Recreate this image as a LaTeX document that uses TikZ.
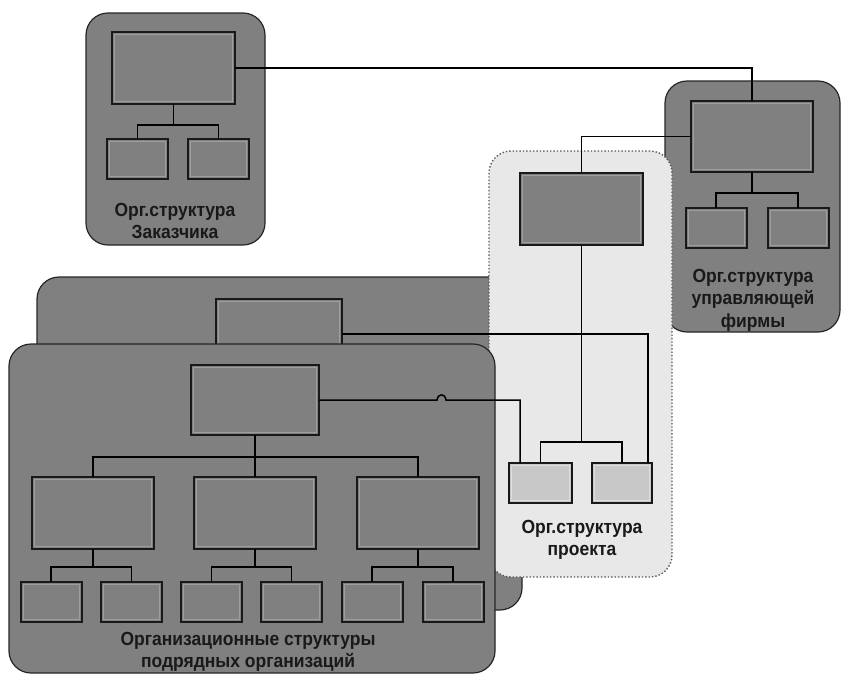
\documentclass[tikz,border=0pt]{standalone}
\usepackage{fontspec}
\newfontfamily\lblfont{Liberation Sans Bold}[FakeStretch=0.92]
\definecolor{panelgray}{RGB}{128,128,128}
\definecolor{rimgray}{RGB}{158,158,158}
\definecolor{projfill}{RGB}{232,232,232}
\definecolor{subfill}{RGB}{200,200,200}
\definecolor{subrim}{RGB}{222,222,222}
\tikzset{
  panel/.style={draw=black!85, line width=1.2pt, fill=panelgray,
    rounded corners=22pt, inner sep=0pt, outer sep=0pt},
  projpanel/.style={draw=black!65, dotted, line width=1.4pt, fill=projfill,
    rounded corners=22pt, inner sep=0pt, outer sep=0pt},
  rim/.style={path picture={
    \draw[#1, line width=1pt]
      ([xshift=2.5pt,yshift=-2.5pt]path picture bounding box.north west)
      rectangle
      ([xshift=-2.5pt,yshift=2.5pt]path picture bounding box.south east);}},
  orgbox/.style={draw=black!90, line width=2pt, fill=panelgray,
    inner sep=0pt, outer sep=0pt, rim=rimgray},
  smallbox/.style={orgbox, minimum width=61pt, minimum height=40pt},
  projbox/.style={orgbox, fill=subfill, rim=subrim, minimum height=40pt},
  conn/.style={draw=black, line width=1.5pt},
  lbl/.style={text=black!90, align=center, inner sep=0pt,
    font=\lblfont\fontsize{19}{22.5}\selectfont}
}
\begin{document}
\begin{tikzpicture}[x=1pt,y=-1pt]
\useasboundingbox (0,0) rectangle (842,675);

% customer
\node[panel, minimum width=179pt, minimum height=232pt] (pZ) at (175.5,129) {};
\node[orgbox, minimum width=123pt, minimum height=72pt] (zTop) at (173.5,68) {};
\node[smallbox] (zL) at (137.5,158.5) {};
\node[smallbox] (zR) at (218.5,158.5) {};
\node[lbl] (zText) at (175,221) {Орг.структура\\Заказчика};
\draw[conn] (zTop.south) -- ++(0,21) coordinate (zJ);
\draw[conn] (zL.north) |- (zJ) -| (zR.north);

% management firm
\node[panel, minimum width=175pt, minimum height=251pt] (pM) at (752.5,206.5) {};
\node[orgbox, minimum width=122pt, minimum height=71pt] (mTop) at (752,136.5) {};
\node[smallbox] (mL) at (716,227.5) {};
\node[smallbox] (mR) at (798,227.5) {};
\node[lbl] (mText) at (753,300) {Орг.структура\\управляющей\\фирмы};
\draw[conn] (mTop.south) -- ++(0,21) coordinate (mJ);
\draw[conn] (mL.north) |- (mJ) -| (mR.north);

% contractors, back sheet
\node[panel, minimum width=485pt, minimum height=333pt] (pB) at (279.5,443.5) {};
\node[orgbox, minimum width=126pt, minimum height=70pt] (bTop) at (279,334) {};

% project
\node[projpanel, minimum width=183pt, minimum height=426pt] (pP) at (580.5,364) {};
\node[orgbox, minimum width=123pt, minimum height=72pt] (pTop) at (581.5,209) {};
\node[projbox, minimum width=63pt] (pL) at (540.5,483) {};
\node[projbox, minimum width=60pt] (pR) at (622,483) {};
\node[lbl] (pText) at (582,540) {Орг.структура\\проекта};
\draw[conn] (pTop.south) -- (pTop.south |- 0,442) coordinate (pJ);
\draw[conn] (pL.north) |- (pJ) -| (pR.north);

% contractors, front sheet
\node[panel, minimum width=486pt, minimum height=329pt] (pF) at (252,508.5) {};
\node[orgbox, minimum width=128pt, minimum height=70pt] (fTop) at (255,400) {};
\node[orgbox, minimum width=122pt, minimum height=72pt] (fA) at (93,513) {};
\node[orgbox, minimum width=122pt, minimum height=72pt] (fB) at (255,513) {};
\node[orgbox, minimum width=122pt, minimum height=72pt] (fC) at (418,513) {};
\node[smallbox] (fA1) at (51,602) {};
\node[smallbox] (fA2) at (131.5,602) {};
\node[smallbox] (fB1) at (211.5,602) {};
\node[smallbox] (fB2) at (291.5,602) {};
\node[smallbox] (fC1) at (372,602) {};
\node[smallbox] (fC2) at (453,602) {};
\node[lbl] (fText) at (248,652) {Организационные структуры\\подрядных организаций};
\draw[conn] (fTop.south) -- (fB.north);
\coordinate (fJ) at (fTop.south |- 0,457);
\draw[conn] (fA.north) |- (fJ) -| (fC.north);
\foreach \g in {A,B,C}{
  \draw[conn] (f\g.south) -- ++(0,18) coordinate (f\g J);
  \draw[conn] (f\g1.north) |- (f\g J) -| (f\g2.north);
}

% links between the structures
\draw[conn] (zTop.east) -| (mTop.north);
\draw[conn] (mTop.west) -| (pTop.north);
\draw[conn] (bTop.east) -| ([xshift=-4pt]pR.north east);
\coordinate (hopA) at (437,400);
\coordinate (hopB) at (446,400);
\draw[conn] (fTop.east) -- (hopA) .. controls +(1,-7) and +(-1,-7) .. (hopB)
  -| ([xshift=11pt]pL.north west);
\end{tikzpicture}
\end{document}
